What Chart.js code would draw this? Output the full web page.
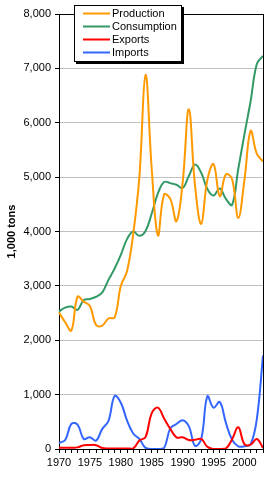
<!DOCTYPE html>
<html><head><meta charset="utf-8">
<script src="https://cdn.jsdelivr.net/npm/chart.js@4"></script>
<style>html,body{margin:0;padding:0;background:#fff;}canvas{display:block;}</style>
</head><body>
<canvas id="c" width="277" height="479"></canvas>
<script>
const years = ['1970','1971','1972','1973','1974','1975','1976','1977','1978','1979',
  '1980','1981','1982','1983','1984','1985','1986','1987','1988','1989',
  '1990','1991','1992','1993','1994','1995','1996','1997','1998','1999',
  '2000','2001','2002','2003'];
const production = [2510,2330,2180,2800,2710,2630,2280,2270,2400,2420,
  3000,3270,3950,5000,6880,5150,3930,4680,4600,4190,
  4900,6250,4850,4140,4950,5240,4650,5050,4960,4250,
  4950,5850,5430,5290];
const consumption = [2530,2600,2620,2560,2740,2760,2800,2880,3110,3320,
  3570,3860,4000,3920,4010,4330,4700,4910,4890,4860,
  4800,5020,5230,5080,4780,4660,4790,4600,4490,5150,
  5790,6400,7080,7230];
const exportsData = [25,25,25,30,70,75,70,20,10,10,
  10,10,10,155,220,660,760,560,370,215,
  215,165,170,185,40,0,0,10,180,400,
  90,80,185,20];
const importsData = [110,166,460,450,185,215,155,370,515,975,
  850,525,285,185,20,0,0,20,380,460,
  530,420,60,180,970,760,865,480,170,50,
  50,90,550,1720];
const yTickValues = [0,1000,2000,3000,4000,5000,6000,7000,8000];
const xLabelYears = ['1970','1975','1980','1985','1990','1995','2000'];

const FONT = 'Liberation Sans, Arial, sans-serif';

const frame = {
  id:'frame',
  afterDraw(chart){
    const a = chart.chartArea, c = chart.ctx;
    c.save();
    c.strokeStyle = '#000'; c.lineWidth = 1;
    const xr = Math.round(a.right) + 0.5;
    c.beginPath(); c.moveTo(xr, Math.round(a.top)); c.lineTo(xr, Math.round(a.bottom)+1); c.stroke();
    c.restore();
  }
};

const boxLegend = {
  id:'boxLegend',
  afterDraw(chart){
    const c = chart.ctx;
    const x = 74, y = 5, w = 108, h = 57;
    c.save();
    c.fillStyle = '#000';
    c.fillRect(x+2, y+2, w, h);
    c.fillStyle = '#fff';
    c.fillRect(x, y, w, h);
    c.strokeStyle = '#000'; c.lineWidth = 1;
    c.strokeRect(x+0.5, y+0.5, w-1, h-1);
    c.font = '11px ' + FONT;
    c.textBaseline = 'middle';
    c.textAlign = 'left';
    chart.data.datasets.forEach((ds, i) => {
      const ry = 13.5 + i * 13;
      c.strokeStyle = ds.borderColor; c.lineWidth = 2;
      c.beginPath(); c.moveTo(83, ry); c.lineTo(110, ry); c.stroke();
      c.fillStyle = '#000';
      c.fillText(ds.label, 112, ry + 0.5);
    });
    c.restore();
  }
};

new Chart(document.getElementById('c'), {
  type:'line',
  data:{
    labels: years,
    datasets:[
      {label:'Production', data:production, borderColor:'#FF9900'},
      {label:'Consumption', data:consumption, borderColor:'#339966'},
      {label:'Exports', data:exportsData, borderColor:'#FF0000'},
      {label:'Imports', data:importsData, borderColor:'#3366FF'}
    ]
  },
  options:{
    responsive:false, animation:false, devicePixelRatio:1,
    layout:{padding:{left:0, right:14, top:14, bottom:0}},
    plugins:{legend:{display:false}, tooltip:{enabled:false}},
    elements:{point:{radius:0}, line:{borderWidth:2, tension:0.4, fill:false}},
    scales:{
      x:{
        type:'category', offset:false,
        grid:{display:true, drawOnChartArea:false, drawTicks:true, tickLength:4, tickColor:'#000', color:'#000'},
        border:{display:true, color:'#000', width:1},
        ticks:{autoSkip:false, maxRotation:0, minRotation:0, padding:3, color:'#000',
          font:{family:FONT, size:11},
          callback:(v,i) => xLabelYears.includes(years[i]) ? years[i] : ''},
        afterFit:s => { s.height = 30; }
      },
      y:{
        min:0, max:8000,
        afterBuildTicks:s => { s.ticks = yTickValues.map(v => ({value:v})); },
        grid:{color:ctx => (ctx.tick && (ctx.tick.value === 8000 || ctx.tick.value === 0)) ? '#000' : '#C0C0C0',
          tickColor:'#000', tickLength:4},
        border:{display:true, color:'#000'},
        ticks:{padding:4, color:'#000', font:{family:FONT, size:11},
          callback:v => Number(v).toLocaleString('en-US')},
        title:{display:true, text:'1,000 tons', color:'#000',
          font:{family:FONT, size:11, weight:'bold'}, padding:{top:5, bottom:0}},
        afterFit:s => { s.width = 59; }
      }
    }
  },
  plugins:[frame, boxLegend]
});
</script>
</body></html>
